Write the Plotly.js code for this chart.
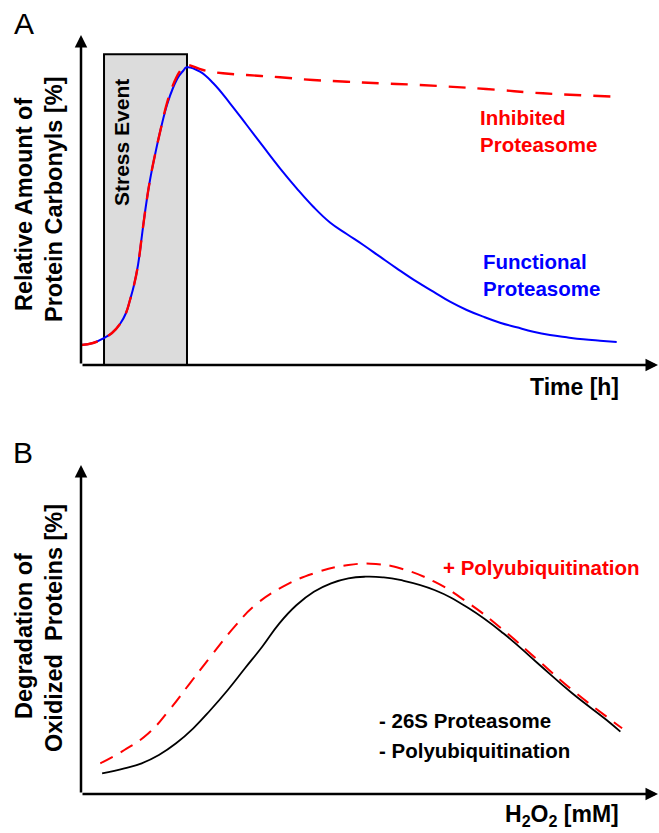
<!DOCTYPE html>
<html>
<head>
<meta charset="utf-8">
<script src="https://cdn.plot.ly/plotly-3.0.1.min.js"></script>
<style>html,body{margin:0;padding:0;background:#fff;}#chart{width:659px;height:833px;}</style>
</head>
<body>
<div id="chart"></div>
<script>
// ---------- Panel A data (time in arbitrary units, relative carbonyl amount %) ----------
const timeFunctional = [0, 2.08, 3.99, 5.37, 6.76, 7.80, 8.49, 9.19, 9.88, 10.57, 11.27, 11.96, 12.82, 13.86, 14.90, 15.94, 16.98, 17.68, 18.32,
  20.62, 22.93, 25.82, 28.72, 31.59, 34.49, 37.38, 40.26, 43.15, 46.05, 48.93, 51.82, 54.71, 58.18, 61.06, 63.95, 66.85, 69.72,
  72.62, 75.51, 78.39, 81.28, 84.18, 87.05, 89.95, 92.84];
const carbonylFunctional = [6.06, 6.67, 8.18, 9.70, 12.42, 15.76, 19.70, 24.24, 30.30, 39.39, 48.48, 56.06, 63.64, 71.82, 78.79, 83.94, 87.58, 89.09, 90.21,
  88.88, 85.36, 79.30, 72.73, 66.15, 59.61, 53.55, 47.97, 43.20, 39.70, 36.36, 32.82, 29.30, 25.24, 22.21, 19.18, 16.67, 14.64,
  12.82, 11.42, 10.09, 9.09, 8.39, 7.79, 7.36, 6.97];

const timeInhibited = [0, 2.08, 3.99, 5.37, 6.76, 7.80, 8.49, 9.19, 9.88, 10.57, 11.27, 11.96, 12.82, 13.86, 14.90, 15.94, 16.98, 17.68, 18.32,
  21.14, 24.61, 28.72, 34.49, 40.21, 46.05, 51.82, 58.75, 70.19, 80.07, 91.85];
const carbonylInhibited = [6.06, 6.67, 8.18, 9.70, 12.42, 15.76, 19.70, 24.24, 30.30, 39.39, 48.48, 56.06, 63.64, 71.82, 79.40, 84.80, 88.60, 90.10, 90.91,
  89.39, 88.39, 87.88, 87.18, 86.36, 85.85, 85.36, 84.85, 83.64, 82.33, 81.36];

const stressStart = 3.99;
const stressEnd = 18.37;
const stressTop = 94.15;

// ---------- Panel B data (H2O2 dose, degradation %) ----------
const doseBasal = [3.66, 7.52, 10.52, 13.50, 16.48, 19.46, 22.44, 25.44, 28.42, 31.40, 34.38, 37.37, 40.36, 43.34, 46.33, 49.31, 52.29,
  55.29, 61.25, 67.21, 73.19, 79.15, 85.13, 91.09, 93.48];
const degradationBasal = [6.29, 7.81, 9.33, 11.85, 15.41, 19.97, 25.53, 31.61, 38.21, 44.77, 51.88, 57.45, 61.49, 64.04, 65.56, 66.05, 65.87,
  65.05, 62.01, 56.44, 48.85, 39.73, 30.61, 22.49, 18.94];

const doseUbiq = [3.34, 7.52, 11.70, 15.29, 18.87, 22.44, 26.62, 30.21, 34.99, 40.36, 46.33, 51.11, 55.29, 61.25, 67.21, 73.19, 79.15, 85.13, 91.09, 93.78];
const degradationUbiq = [9.33, 13.37, 18.45, 25.53, 33.65, 41.73, 50.85, 57.45, 63.01, 67.08, 69.60, 69.91, 68.60, 64.53, 57.96, 49.85, 40.73, 31.61, 23.50, 19.97];

// ---------- Texts ----------
const labelA = 'A', labelB = 'B';
const yTitleA = ['Relative Amount of', 'Protein Carbonyls [%]'];
const yTitleB = ['Degradation of', 'Oxidized\u00a0\u00a0Proteins [%]'];
const xTitleA = 'Time [h]';
const xTitleB = 'H<sub>2</sub>O<sub>2</sub> [mM]';
const stressLabel = 'Stress Event';
const inhibitedLabel = 'Inhibited<br>Proteasome';
const functionalLabel = 'Functional<br>Proteasome';
const ubiqLabel = '+ Polyubiquitination';
const basalLabels = ['- 26S Proteasome', '- Polyubiquitination'];

// ---------- Layout helpers ----------
const W = 659, H = 833;
const FONT = 'Arial, "Liberation Sans", sans-serif';
const px = v => v / W;
const py = v => 1 - v / H;

const traces = [
  {x: timeFunctional, y: carbonylFunctional, xaxis: 'x', yaxis: 'y', mode: 'lines',
   line: {color: '#0000ff', width: 2, shape: 'spline', smoothing: 1.2}, hoverinfo: 'skip'},
  {x: timeInhibited, y: carbonylInhibited, xaxis: 'x', yaxis: 'y', mode: 'lines',
   line: {color: '#ff0000', width: 2.4, dash: '17px,12px', shape: 'spline', smoothing: 1.2}, hoverinfo: 'skip'},
  {x: doseBasal, y: degradationBasal, xaxis: 'x2', yaxis: 'y2', mode: 'lines',
   line: {color: '#000000', width: 1.8, shape: 'spline', smoothing: 1.3}, hoverinfo: 'skip'},
  {x: doseUbiq, y: degradationUbiq, xaxis: 'x2', yaxis: 'y2', mode: 'lines',
   line: {color: '#ff0000', width: 2, dash: '14px,9px', shape: 'spline', smoothing: 1.3}, hoverinfo: 'skip'}
];

const hiddenAxis = {range: [0, 100], showline: false, showgrid: false, zeroline: false, showticklabels: false, ticks: '', fixedrange: true};

function axisArrow(xref, yref, xHead, yHead) {
  return {xref: xref, yref: yref, axref: xref, ayref: yref, x: xHead, y: yHead, ax: 0, ay: 0,
    showarrow: true, arrowhead: 2, arrowsize: 1, arrowwidth: 2.5, arrowcolor: '#000', text: ''};
}
function txt(text, x, y, opts) {
  return Object.assign({xref: 'paper', yref: 'paper', x: px(x), y: py(y), text: text, showarrow: false,
    xanchor: 'left', yanchor: 'middle', align: 'left', font: {family: FONT, size: 20.5, color: '#000'}}, opts || {});
}
function bold(s) { return '<b>' + s + '</b>'; }

const annotations = [
  axisArrow('x', 'y', 100, 0),
  axisArrow('x', 'y', 0, 100),
  axisArrow('x2', 'y2', 100, 0),
  axisArrow('x2', 'y2', 0, 100),
  txt(labelA, 12, 24, {font: {family: FONT, size: 30, color: '#000'}}),
  txt(labelB, 11, 452, {font: {family: FONT, size: 30, color: '#000'}}),
  txt(bold(yTitleA[0]), 24, 205, {xanchor: 'center', textangle: -90, font: {family: FONT, size: 23.5, color: '#000'}}),
  txt(bold(yTitleA[1]), 54, 200, {xanchor: 'center', textangle: -90, font: {family: FONT, size: 23.5, color: '#000'}}),
  txt(bold(yTitleB[0]), 24, 636, {xanchor: 'center', textangle: -90, font: {family: FONT, size: 23.5, color: '#000'}}),
  txt(bold(yTitleB[1]), 54, 628, {xanchor: 'center', textangle: -90, font: {family: FONT, size: 23.5, color: '#000'}}),
  txt(bold(stressLabel), 121, 143, {xanchor: 'center', textangle: -90, font: {family: FONT, size: 21, color: '#000'}}),
  txt(bold(xTitleA), 621, 387, {xanchor: 'right', font: {family: FONT, size: 23, color: '#000'}}),
  txt(bold(xTitleB), 621, 815, {xanchor: 'right', font: {family: FONT, size: 23, color: '#000'}}),
  txt(bold(inhibitedLabel), 478, 131, {font: {family: FONT, size: 20.5, color: '#ff0000'}}),
  txt(bold(functionalLabel), 481, 275, {font: {family: FONT, size: 20.5, color: '#0000ff'}}),
  txt(bold(ubiqLabel), 441, 567, {font: {family: FONT, size: 20.5, color: '#ff0000'}}),
  txt(bold(basalLabels[0]), 377, 720, {font: {family: FONT, size: 20.5, color: '#000'}}),
  txt(bold(basalLabels[1]), 377, 750, {font: {family: FONT, size: 20.5, color: '#000'}})
];

const layout = {
  width: W, height: H,
  margin: {l: 0, r: 0, t: 0, b: 0, pad: 0},
  paper_bgcolor: '#ffffff', plot_bgcolor: 'rgba(0,0,0,0)',
  showlegend: false,
  xaxis: Object.assign({}, hiddenAxis, {domain: [81 / W, 658 / W], anchor: 'y'}),
  yaxis: Object.assign({}, hiddenAxis, {domain: [1 - 365 / H, 1 - 35 / H], anchor: 'x'}),
  xaxis2: Object.assign({}, hiddenAxis, {domain: [81 / W, 658 / W], anchor: 'y2'}),
  yaxis2: Object.assign({}, hiddenAxis, {domain: [1 - 794 / H, 1 - 465 / H], anchor: 'x2'}),
  shapes: [
    {type: 'rect', xref: 'x', yref: 'y', x0: stressStart, x1: stressEnd, y0: 0, y1: stressTop,
     fillcolor: '#dcdcdc', line: {color: '#000', width: 2}, layer: 'below'}
  ],
  annotations: annotations
};

Plotly.newPlot('chart', traces, layout, {staticPlot: true, displayModeBar: false});
</script>
</body>
</html>
